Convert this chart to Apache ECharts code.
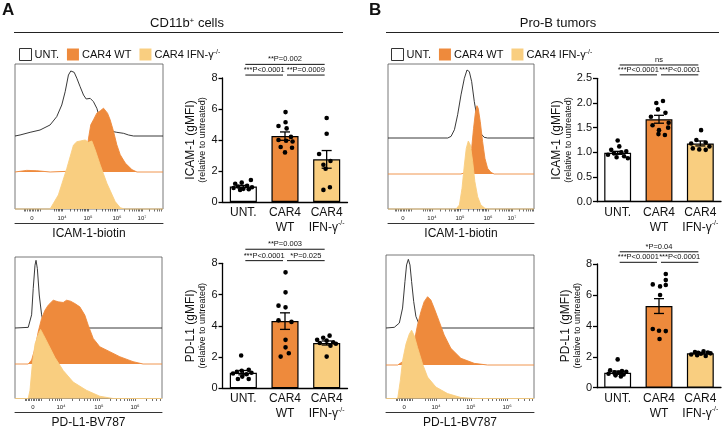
<!DOCTYPE html>
<html><head><meta charset="utf-8">
<script src="https://cdn.jsdelivr.net/npm/echarts@6/dist/echarts.min.js"></script>
<style>html,body{margin:0;padding:0;background:#fff}#c{width:722px;height:430px}</style>
</head><body><div id="c"></div>
<script>
const FONT = '"Liberation Sans", Arial, Helvetica, sans-serif';

// ---------- Flow histograms: [position on axis (0-100), height (% of layer)] ----------
const histA_icam_UNT = [[0,0],[3.4,1.4],[10.2,5.1],[16.9,8.3],[23.7,15.3],[28.2,26.9],[31.6,43.1],[33.9,61.6],[36.1,84.7],[37.7,90.3],[40.0,88.4],[41.8,80.1],[44.0,68.5],[46.3,56.9],[48.1,51.4],[50.8,52.3],[53.0,47.7],[55.3,38.4],[57.6,22.2],[59.8,13.0],[64.3,6.9],[68.8,5.1],[73.4,3.7],[76.7,1.4],[80.1,0],[100,0]];
const histA_icam_WT = [[0,0],[7.9,1.5],[14.7,1.2],[23.7,0],[35.0,0.6],[44.0,2.2],[48.1,16.0],[49.7,31.4],[51.2,43.7],[53.0,48.3],[55.3,54.5],[57.6,56.6],[59.8,59.1],[60.9,60.6],[62.5,54.5],[64.3,48.3],[66.6,37.5],[68.8,25.2],[71.1,16.0],[74.5,8.3],[79.0,2.2],[82.4,0],[100,0]];
const histA_icam_IFN = [[0,0],[23.7,0],[29.3,9.7],[35.0,28.0],[39.5,44.1],[41.8,46.4],[47.4,47.6],[49.7,46.0],[51.9,46.9],[54.2,40.7],[57.6,30.3],[62.1,17.7],[67.7,5.1],[71.1,0.9],[74,0],[100,0]];

const histA_pdl1_UNT = [[0,0],[9.0,0.9],[11.3,18.6],[12.4,55.8],[13.6,88.4],[14.3,95.3],[15.2,83.7],[16.5,46.5],[18.1,18.6],[19.7,4.7],[22.6,0],[100,0]];
const histA_pdl1_WT = [[0,0],[9.0,0],[11.3,3.7],[13.6,14.6],[15.8,30.1],[18.1,42.5],[20.4,50.3],[22.6,55.0],[26.0,59.6],[29.4,58.1],[32.8,57.5],[35.1,59.6],[37.8,58.7],[40.7,56.5],[44.1,53.4],[47.5,45.7],[49.8,36.3],[53.2,23.9],[57.7,16.1],[64.5,11.5],[71.3,6.8],[80.3,2.2],[87.1,0],[100,0]];
const histA_pdl1_IFN = [[0,0],[9.0,0],[10.2,5.8],[11.8,24.4],[13.6,38.4],[15.8,45.3],[17.4,48.8],[19.2,45.3],[22.6,38.4],[27.1,29.1],[32.8,19.8],[39.6,11.6],[48.6,5.8],[57.7,1.6],[66.7,0],[100,0]];

const histB_icam_UNT = [[0,0],[40.9,0],[43.2,2.2],[45.5,11.2],[47.7,31.4],[50.0,58.3],[52.3,80.7],[54.1,91.9],[55.7,89.7],[57.3,76.2],[59.1,49.3],[61.4,22.4],[63.2,6.7],[65.9,0.9],[68.2,0],[100,0]];
const histB_icam_WT = [[0,0],[50.0,0],[53.4,1.5],[55.7,8.2],[57.3,23.3],[58.6,41.5],[59.8,55.2],[60.9,62.1],[61.8,59.7],[63.2,47.6],[64.8,29.4],[66.4,14.2],[68.2,5.2],[70.5,1.5],[72.7,0],[100,0]];
const histB_icam_IFN = [[0,0],[46.6,0],[48.9,2.8],[50.7,14.3],[52.3,30.3],[53.6,41.8],[55.0,46.9],[56.4,44.1],[58.0,32.6],[59.5,18.9],[61.4,8.5],[63.6,2.8],[66.4,0.5],[68,0],[100,0]];

const histB_pdl1_UNT = [[0,0],[5.6,0.9],[9.0,6.8],[11.2,27.3],[12.8,63.6],[13.9,86.4],[15.1,94.1],[16.2,86.4],[17.3,63.6],[18.7,36.4],[20.2,15.9],[22.5,4.5],[25.8,0.9],[28,0],[100,0]];
const histB_pdl1_WT = [[0,0],[7.9,0],[11.2,3.0],[15.7,9.1],[19.1,21.2],[21.3,36.4],[23.6,48.5],[25.8,57.6],[28.1,62.1],[30.3,59.1],[32.6,51.5],[36.0,39.4],[39.3,27.3],[43.8,15.2],[50.6,6.1],[59.6,1.5],[68.5,0],[100,0]];
const histB_pdl1_IFN = [[0,0],[7.9,0],[9.7,12.6],[11.2,26.4],[13.5,37.9],[15.7,44.8],[17.3,47.6],[19.1,43.7],[21.3,35.6],[24.7,24.1],[28.1,14.9],[33.7,8.0],[41.6,3.4],[50.6,0.7],[59.6,0],[100,0]];

// ---------- Histogram axis tick labels and their positions ----------
const tickLabelsICAM = ['0','10⁴','10⁵','10⁶','10⁷'];
const tickLabelsPDL1 = ['0','10⁴','10⁵','10⁶'];
const tickPosA_icam = [11.5, 31.8, 49.3, 68.9, 85.8];
const tickPosA_pdl1 = [12.2, 31.3, 57.1, 81.6];
const tickPosB_icam = [10.3, 30.1, 49.3, 68.5, 84.9];
const tickPosB_pdl1 = [12.2, 33.8, 57.4, 81.8];

// ---------- Bar charts ----------
const groupNames = ['UNT.', 'CAR4 WT', 'CAR4 IFN-γ-/-'];
const barCategories = ['UNT.', 'CAR4\nWT', 'CAR4\nIFN-γ-/-'];

const meanA_icam = [1.0, 4.25, 2.75];
const semA_icam  = [0.07, 0.27, 0.57];
const dotsA_icam_UNT = [1.42, 1.25, 1.18, 1.05, 1.0, 0.95, 0.9, 0.85, 0.82, 0.78];
const dotsA_icam_WT  = [5.8, 5.15, 4.9, 4.75, 4.2, 4.0, 3.95, 3.9, 3.55, 3.5, 3.2];
const dotsA_icam_IFN = [5.42, 4.4, 3.1, 2.65, 2.4, 2.15, 0.95, 0.78];
const jitA_icam_UNT = [0.7, -0.15, -0.75, 0.35, -0.5, 0.8, -0.9, 0.0, 0.5, -0.3];
const jitA_icam_WT  = [0.05, 0.05, -0.6, 0.15, 0.55, -0.6, 0.1, 0.7, -0.4, 0.65, 0.0];
const jitA_icam_IFN = [0.0, 0.0, -0.7, 0.35, -0.3, -0.1, 0.3, -0.3];
const sigA_icam = ['**P=0.002', '***P<0.0001', '**P=0.0009'];
const sigLevelsA_icam = [8.88, 8.19];

const meanA_pdl1 = [1.0, 4.3, 2.9];
const semA_pdl1  = [0.14, 0.53, 0.13];
const dotsA_pdl1_UNT = [2.1, 1.18, 1.12, 1.05, 1.0, 0.95, 0.9, 0.75, 0.6, 0.6];
const dotsA_pdl1_WT  = [7.42, 6.14, 5.29, 5.18, 4.35, 4.25, 3.1, 2.62, 2.24, 2.03];
const dotsA_pdl1_IFN = [3.37, 3.24, 3.1, 3.05, 2.95, 2.9, 2.85, 2.72, 2.03];
const jitA_pdl1_UNT = [-0.2, 0.5, -0.15, -0.6, 0.75, -0.95, 0.3, -0.1, -0.5, 0.5];
const jitA_pdl1_WT  = [0.05, 0.05, -0.6, 0.05, -0.6, 0.6, 0.05, 0.05, 0.35, -0.4];
const jitA_pdl1_IFN = [0.27, -0.32, -0.88, 0.0, 0.6, -0.63, 0.85, 0.35, 0.0];
const sigA_pdl1 = ['**P=0.003', '***P<0.0001', '*P=0.025'];
const sigLevelsA_pdl1 = [8.9, 8.17];

const meanB_icam = [0.99, 1.67, 1.18];
const semB_icam  = [0.03, 0.08, 0.05];
const dotsB_icam_UNT = [1.24, 1.12, 1.05, 1.02, 1.0, 0.98, 0.95, 0.92, 0.9, 0.88];
const dotsB_icam_WT  = [2.04, 2.0, 1.87, 1.8, 1.72, 1.6, 1.55, 1.5, 1.45, 1.37, 1.35];
const dotsB_icam_IFN = [1.45, 1.25, 1.2, 1.18, 1.12, 1.08, 1.06, 1.05];
const jitB_icam_UNT = [0.0, 0.15, -0.6, 0.8, 0.35, -0.35, -0.9, 0.6, -0.1, 0.95];
const jitB_icam_WT  = [0.37, -0.25, -0.1, 0.6, -0.75, 0.9, -0.6, 0.85, 0.0, -0.05, 0.55];
const jitB_icam_IFN = [0.07, -0.37, 0.5, -0.85, 0.85, -0.7, -0.1, 0.5];
const sigB_icam = ['ns', '***P<0.0001', '***P<0.0001'];
const sigLevelsB_icam = [2.77, 2.57];

const meanB_pdl1 = [0.97, 5.28, 2.22];
const semB_pdl1  = [0.1, 0.48, 0.04];
const dotsB_pdl1_UNT = [1.83, 1.12, 1.08, 1.03, 1.0, 0.98, 0.9, 0.85, 0.8, 0.72];
const dotsB_pdl1_WT  = [7.35, 6.96, 6.68, 6.64, 6.55, 6.0, 3.8, 3.68, 3.66, 3.15];
const dotsB_pdl1_IFN = [2.35, 2.3, 2.28, 2.25, 2.22, 2.2, 2.15, 2.1, 2.05];
const jitB_pdl1_UNT = [0.0, -0.7, 0.4, 0.8, -0.3, 0.1, -0.85, 0.55, -0.2, 0.3];
const jitB_pdl1_WT  = [0.63, 0.63, -0.58, 0.63, 0.1, 0.1, -0.58, 0.0, 0.63, 0.05];
const jitB_pdl1_IFN = [0.3, -0.5, 0.7, -0.2, 0.95, 0.05, -0.85, -0.3, 0.5];
const sigB_pdl1 = ['*P=0.04', '***P<0.0001', '***P<0.0001'];
const sigLevelsB_pdl1 = [8.79, 8.11];

// ---------- styles ----------
const C_ORANGE = '#EE8A3C';
const C_LIGHT = '#F9CE80';
const barFill = ['#ffffff', C_ORANGE, C_LIGHT];
const supRich = { sup: { fontSize: 7, lineHeight: 8, verticalAlign: 'top', fontFamily: FONT, color: '#111' } };
const supFmt = s => s.replace('-/-', '{sup|-/-}');

const grids = [], xAxes = [], yAxes = [], series = [];

function minorTicks(pos) {
  const out = [];
  for (let k = -5; k <= 5; k++) out.push(pos[0] + k * 1.1);
  for (let i = 1; i < pos.length; i++) {
    const span = (i < pos.length - 1 ? pos[i + 1] : 2 * pos[i] - pos[i - 1]) - pos[i];
    for (let k = 1; k <= 9; k++) {
      const p = pos[i] + Math.log10(k) * span;
      if (p < 100) out.push(p);
    }
  }
  const span0 = pos[2] - pos[1];
  for (let k = 5; k <= 9; k++) out.push(pos[1] - (1 - Math.log10(k)) * span0);
  return out.filter(p => p > 0 && p < 100);
}

function addHistogram(lay, layerData, tickPos, tickLabels, title) {
  const styles = [
    { line: '#222', area: null, w: 0.9 },
    { line: C_ORANGE, area: C_ORANGE, w: 0.9 },
    { line: C_LIGHT, area: C_LIGHT, w: 0.9 }
  ];
  layerData.forEach((data, li) => {
    const gi = grids.length;
    const isBottom = li === 2;
    grids.push({ left: lay.left, top: lay.top, width: lay.width, height: lay.bottoms[li] - lay.top,
      show: isBottom, borderColor: '#555', borderWidth: 0.8, backgroundColor: 'transparent' });
    const xi = xAxes.length;
    xAxes.push({ type: 'value', gridIndex: gi, min: 0, max: 100, show: isBottom,
      axisLine: { show: false }, splitLine: { show: false },
      axisTick: { show: isBottom, customValues: minorTicks(tickPos), length: 2.5, lineStyle: { color: '#333', width: 0.7 } },
      axisLabel: { show: isBottom, customValues: tickPos, fontSize: 6, margin: 6, color: '#222', fontFamily: FONT,
        formatter: v => { const i = tickPos.findIndex(p => Math.abs(p - v) < 1e-6); return i >= 0 ? tickLabels[i] : ''; } } });
    const yi = yAxes.length;
    yAxes.push({ type: 'value', gridIndex: gi, min: 0, max: 100, show: false });
    const st = styles[li];
    series.push({ name: groupNames[li], type: 'line', xAxisIndex: xi, yAxisIndex: yi, data: data,
      showSymbol: false, symbol: 'none', clip: false, silent: true, z: 2 + li,
      color: li === 0 ? '#222' : st.area,
      lineStyle: { color: st.line, width: st.w },
      areaStyle: st.area ? { color: st.area, opacity: 1 } : undefined });
    if (isBottom) {
      xAxes.push({ type: 'value', gridIndex: gi, min: 0, max: 100, position: 'bottom', offset: 14,
        axisLine: { show: true, lineStyle: { color: '#333', width: 1 } }, axisTick: { show: false },
        axisLabel: { show: false }, splitLine: { show: false },
        name: title, nameLocation: 'middle', nameGap: 4.5,
        nameTextStyle: { fontSize: 12, color: '#111', fontFamily: FONT, verticalAlign: 'top' } });
    }
  });
}

function addBarChart(lay, means, sems, dots, jits, sigLabels, sigLevels, yMax, yInt, dec, yName, nameGap) {
  const gi = grids.length;
  grids.push({ left: lay.left, top: lay.top, width: lay.width, height: lay.height });
  const xi = xAxes.length, yi = yAxes.length;
  xAxes.push({ type: 'category', gridIndex: gi, data: barCategories,
    axisLine: { lineStyle: { color: '#000', width: 1.3 } }, axisTick: { show: false },
    axisLabel: { fontSize: 12, lineHeight: 15, margin: 3, color: '#111', fontFamily: FONT, interval: 0,
      formatter: supFmt, rich: supRich } });
  yAxes.push({ type: 'value', gridIndex: gi, min: 0, max: yMax, interval: yInt,
    axisLine: { show: true, lineStyle: { color: '#000', width: 1.3 } },
    axisTick: { show: true, length: 4, lineStyle: { color: '#000', width: 1.3 } },
    splitLine: { show: false },
    axisLabel: { fontSize: 11, margin: 5, color: '#111', fontFamily: FONT, formatter: v => v.toFixed(dec) },
    name: '{a|' + yName + '}\n{b|(relative to untreated)}', nameLocation: 'middle', nameGap: nameGap,
    nameTextStyle: { rich: {
      a: { fontSize: 12, lineHeight: 13, fontFamily: FONT, color: '#111' },
      b: { fontSize: 9, lineHeight: 11, fontFamily: FONT, color: '#111' } } } });
  series.push({ type: 'bar', xAxisIndex: xi, yAxisIndex: yi, barWidth: '65%', silent: true, z: 2,
    data: means.map((m, i) => ({ value: m, itemStyle: { color: barFill[i], borderColor: '#000', borderWidth: 1.2 } })) });
  series.push({ type: 'custom', xAxisIndex: xi, yAxisIndex: yi, silent: true, z: 3, encode: { x: 0, y: 1 },
    data: means.map((m, i) => [i, m, sems[i]]),
    renderItem: (p, api) => {
      const top = api.coord([api.value(0), api.value(1) + api.value(2)]);
      const bot = api.coord([api.value(0), api.value(1) - api.value(2)]);
      const s = { stroke: '#000', lineWidth: 1.3 };
      return { type: 'group', children: [
        { type: 'line', shape: { x1: top[0], y1: top[1], x2: bot[0], y2: bot[1] }, style: s },
        { type: 'line', shape: { x1: top[0] - 5, y1: top[1], x2: top[0] + 5, y2: top[1] }, style: s },
        { type: 'line', shape: { x1: bot[0] - 5, y1: bot[1], x2: bot[0] + 5, y2: bot[1] }, style: s } ] };
    } });
  const dotData = [];
  dots.forEach((arr, g) => arr.forEach((v, k) => dotData.push([g, v, jits[g][k]])));
  series.push({ type: 'custom', xAxisIndex: xi, yAxisIndex: yi, silent: true, z: 4, encode: { x: 0, y: 1 },
    data: dotData,
    renderItem: (p, api) => {
      const c = api.coord([api.value(0), api.value(1)]);
      const half = api.size([1, 0])[0] * 0.65 / 2 * 0.8;
      return { type: 'circle', shape: { cx: c[0] + api.value(2) * half, cy: c[1], r: 2.3 }, style: { fill: '#000' } };
    } });
  const br = [[0, 2, sigLevels[0]], [0, 1, sigLevels[1]], [1, 2, sigLevels[1]]];
  series.push({ type: 'custom', xAxisIndex: xi, yAxisIndex: yi, silent: true, z: 4, clip: false, encode: { x: 0, y: 2 },
    data: br,
    renderItem: (p, api) => {
      const a = api.coord([api.value(0), api.value(2)]);
      const b = api.coord([api.value(1), api.value(2)]);
      return { type: 'group', children: [
        { type: 'line', shape: { x1: a[0] + 2, y1: a[1], x2: b[0] - 2, y2: b[1] }, style: { stroke: '#111', lineWidth: 1 } },
        { type: 'text', x: (a[0] + b[0]) / 2, y: a[1] - 1,
          style: { text: sigLabels[p.dataIndex], fontSize: 7.5, fontFamily: FONT, fill: '#111',
            align: 'center', verticalAlign: 'bottom', textAlign: 'center', textVerticalAlign: 'bottom' } } ] };
    } });
}

addHistogram({ left: 15, top: 64, width: 148, bottoms: [136, 172, 209] },
  [histA_icam_UNT, histA_icam_WT, histA_icam_IFN], tickPosA_icam, tickLabelsICAM, 'ICAM-1-biotin');
addHistogram({ left: 15, top: 257, width: 147, bottoms: [328, 364, 400] },
  [histA_pdl1_UNT, histA_pdl1_WT, histA_pdl1_IFN], tickPosA_pdl1, tickLabelsPDL1, 'PD-L1-BV787');
addHistogram({ left: 388, top: 64, width: 146, bottoms: [138, 174, 209] },
  [histB_icam_UNT, histB_icam_WT, histB_icam_IFN], tickPosB_icam, tickLabelsICAM, 'ICAM-1-biotin');
addHistogram({ left: 386, top: 255, width: 148, bottoms: [328, 365, 400] },
  [histB_pdl1_UNT, histB_pdl1_WT, histB_pdl1_IFN], tickPosB_pdl1, tickLabelsPDL1, 'PD-L1-BV787');

addBarChart({ left: 222.5, top: 78, width: 125, height: 124 }, meanA_icam, semA_icam,
  [dotsA_icam_UNT, dotsA_icam_WT, dotsA_icam_IFN], [jitA_icam_UNT, jitA_icam_WT, jitA_icam_IFN],
  sigA_icam, sigLevelsA_icam, 8, 2, 0, 'ICAM-1 (gMFI)', 12);
addBarChart({ left: 222.5, top: 263.3, width: 125, height: 125 }, meanA_pdl1, semA_pdl1,
  [dotsA_pdl1_UNT, dotsA_pdl1_WT, dotsA_pdl1_IFN], [jitA_pdl1_UNT, jitA_pdl1_WT, jitA_pdl1_IFN],
  sigA_pdl1, sigLevelsA_pdl1, 8, 2, 0, 'PD-L1 (gMFI)', 12);
addBarChart({ left: 597, top: 78.3, width: 124, height: 123.4 }, meanB_icam, semB_icam,
  [dotsB_icam_UNT, dotsB_icam_WT, dotsB_icam_IFN], [jitB_icam_UNT, jitB_icam_WT, jitB_icam_IFN],
  sigB_icam, sigLevelsB_icam, 2.5, 0.5, 1, 'ICAM-1 (gMFI)', 17);
addBarChart({ left: 597, top: 264, width: 124, height: 123.7 }, meanB_pdl1, semB_pdl1,
  [dotsB_pdl1_UNT, dotsB_pdl1_WT, dotsB_pdl1_IFN], [jitB_pdl1_UNT, jitB_pdl1_WT, jitB_pdl1_IFN],
  sigB_pdl1, sigLevelsB_pdl1, 8, 2, 0, 'PD-L1 (gMFI)', 13);

const legendData = [
  { name: groupNames[0], itemStyle: { color: '#fff', borderColor: '#333', borderWidth: 1 } },
  { name: groupNames[1], itemStyle: { color: C_ORANGE, borderWidth: 0 } },
  { name: groupNames[2], itemStyle: { color: C_LIGHT, borderWidth: 0 } }
];
function mkLegend(left) {
  return { left: left, top: 43, itemWidth: 12, itemHeight: 12, itemGap: 8, icon: 'rect', selectedMode: false,
    data: legendData, formatter: supFmt,
    textStyle: { fontSize: 11, color: '#111', fontFamily: FONT, padding: [0, 0, 0, -2], rich: supRich } };
}

const headFont = '13px ' + FONT;
const option = {
  animation: false,
  backgroundColor: '#fff',
  grid: grids, xAxis: xAxes, yAxis: yAxes, series: series,
  legend: [mkLegend(14), mkLegend(386)],
  graphic: [
    { type: 'text', x: 2, y: 2, style: { text: 'A', font: 'bold 17px ' + FONT, fill: '#111', textAlign: 'left', textVerticalAlign: 'top', align: 'left', verticalAlign: 'top' } },
    { type: 'text', x: 369, y: 2, style: { text: 'B', font: 'bold 17px ' + FONT, fill: '#111', textAlign: 'left', textVerticalAlign: 'top', align: 'left', verticalAlign: 'top' } },
    { type: 'text', x: 187, y: 23, style: { text: 'CD11b{sup|+} cells', font: headFont, fontSize: 13, fontFamily: FONT, fill: '#111',
        rich: { sup: { fontSize: 8, lineHeight: 8, verticalAlign: 'top', fontFamily: FONT, fill: '#111' } },
        textAlign: 'center', textVerticalAlign: 'middle', align: 'center', verticalAlign: 'middle' } },
    { type: 'text', x: 558, y: 23, style: { text: 'Pro-B tumors', font: headFont, fill: '#111',
        textAlign: 'center', textVerticalAlign: 'middle', align: 'center', verticalAlign: 'middle' } },
    { type: 'line', shape: { x1: 14, y1: 32.5, x2: 343, y2: 32.5 }, style: { stroke: '#222', lineWidth: 1 } },
    { type: 'line', shape: { x1: 386, y1: 32.5, x2: 719, y2: 32.5 }, style: { stroke: '#222', lineWidth: 1 } }
  ]
};
const chart = echarts.init(document.getElementById('c'));
chart.setOption(option);
</script>
</body></html>
